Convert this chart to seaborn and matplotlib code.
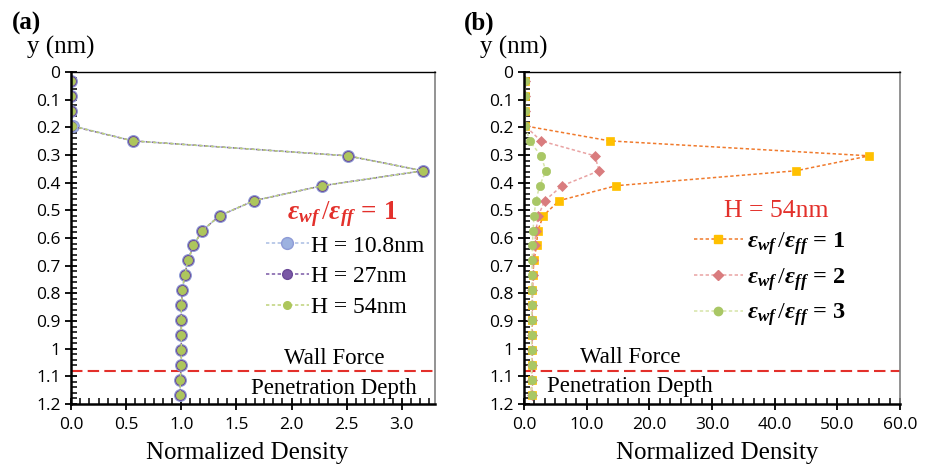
import matplotlib
matplotlib.use("Agg")
import matplotlib.pyplot as plt
import seaborn as sns
from matplotlib.ticker import MultipleLocator, AutoMinorLocator, FuncFormatter
from matplotlib.lines import Line2D

# distance from the wall (nm), shared by every profile
y_nm = [0.032, 0.087, 0.141, 0.195, 0.249, 0.303, 0.357, 0.411, 0.465, 0.519, 0.573,
        0.627, 0.681, 0.735, 0.789, 0.843, 0.897, 0.951, 1.005, 1.059, 1.113, 1.167]

# (a) eps_wf/eps_ff = 1, three channel widths
h_108 = [0.0, 0.0, 0.0, 0.02, 0.56, 2.51, 3.19, 2.28, 1.66, 1.35, 1.19,
         1.11, 1.06, 1.03, 1.01, 1.0, 1.0, 1.0, 1.0, 1.0, 0.99, 0.99]
h_27 = [0.0, 0.0, 0.0, 0.0, 0.56, 2.51, 3.19, 2.28, 1.66, 1.35, 1.19,
        1.11, 1.06, 1.03, 1.01, 1.0, 1.0, 1.0, 1.0, 1.0, 0.99, 0.99]
h_54 = [0.0, 0.0, 0.0, 0.01, 0.56, 2.51, 3.19, 2.28, 1.66, 1.35, 1.19,
        1.11, 1.06, 1.03, 1.01, 1.0, 1.0, 1.0, 1.0, 1.0, 0.99, 0.99]
labels_a = ["H = 10.8nm", "H = 27nm", "H = 54nm"]

# (b) H = 54nm, three wall-fluid strengths
eps_1 = [0.2, 0.2, 0.2, 0.2, 13.7, 55.1, 43.4, 14.7, 5.6, 3.1, 2.2,
         2.0, 1.6, 1.4, 1.35, 1.3, 1.3, 1.25, 1.25, 1.25, 1.2, 1.2]
eps_2 = [0.2, 0.2, 0.2, 0.2, 2.7, 11.3, 12.0, 6.1, 3.3, 2.3, 1.9,
         1.7, 1.5, 1.4, 1.35, 1.3, 1.3, 1.25, 1.25, 1.25, 1.2, 1.2]
eps_3 = [0.2, 0.2, 0.2, 0.2, 0.9, 2.7, 3.5, 2.5, 1.9, 1.6, 1.45,
         1.35, 1.3, 1.25, 1.25, 1.25, 1.2, 1.2, 1.2, 1.2, 1.2, 1.2]
ratios_b = ["1", "2", "3"]

wall_depth = 1.08

sns.set_style("ticks")
plt.rcParams["font.family"] = ["Open Sans", "DejaVu Sans"]
plt.rcParams["text.color"] = "black"
plt.rcParams["mathtext.fontset"] = "custom"
plt.rcParams["mathtext.rm"] = "Liberation Serif"
plt.rcParams["mathtext.it"] = "Liberation Serif:italic"
plt.rcParams["mathtext.bf"] = "Liberation Serif:bold"
plt.rcParams["mathtext.bfit"] = "Liberation Serif:bold:italic"

SERIF = "Liberation Serif"
RED = "#E3302B"
DASH = (0, (2.2, 1.6))


def eps_label(r):
    return (r"$\mathbfit{\varepsilon_{wf}}\,/\mathbfit{\varepsilon_{ff}}\,\mathbf{=\,"
            + r + "}$")


def style_axes(ax, xmax, xstep, xfmt):
    ax.set_ylim(1.2, 0)
    ax.set_xlim(0, xmax)
    ax.yaxis.set_major_locator(MultipleLocator(0.1))
    ax.yaxis.set_minor_locator(AutoMinorLocator(5))
    ax.yaxis.set_major_formatter(FuncFormatter(lambda v, p: f"{v:g}"))
    ax.xaxis.set_major_locator(MultipleLocator(xstep))
    ax.xaxis.set_minor_locator(AutoMinorLocator(6))
    ax.xaxis.set_major_formatter(FuncFormatter(lambda v, p: xfmt.format(v)))
    ax.tick_params(which="major", direction="inout", length=9, width=1.3,
                   labelsize=12.5, color="black", labelcolor="black")
    ax.tick_params(which="minor", direction="in", length=4, width=1.1, color="black")
    ax.tick_params(axis="y", pad=3)
    ax.tick_params(axis="x", pad=5)
    for s in ["left", "bottom"]:
        ax.spines[s].set_linewidth(1.8)
        ax.spines[s].set_color("black")
    ax.spines["top"].set_visible(True)
    ax.spines["top"].set_linewidth(1.0)
    ax.spines["top"].set_color("black")
    ax.spines["right"].set_visible(True)
    ax.spines["right"].set_linewidth(1.2)
    ax.spines["right"].set_color("#808080")
    ax.set_xlabel("")
    ax.set_ylabel("")
    ax.axhline(wall_depth, color=RED, lw=1.5, ls=(0, (5.5, 2.5)), zorder=1)


fig = plt.figure(figsize=(9.33, 4.67), dpi=100)
ax_a = fig.add_axes([71 / 933, 63 / 467, 364 / 933, 332 / 467])
ax_b = fig.add_axes([524 / 933, 63 / 467, 376 / 933, 332 / 467])

# ---- panel (a)
series_a = [
    (h_108, "#A9BDE3", "#9DB2E0", "#8E9BD6", 8.5),
    (h_27, "#7A58A6", "#7A58A6", "#6B4A98", 7.0),
    (h_54, "#BFD27A", "#ADC65C", "#ADC65C", 5.5),
]
handles_a = []
for vals, lc, mfc, mec, ms in series_a:
    sns.lineplot(x=vals, y=y_nm, sort=False, estimator=None, ax=ax_a, color=lc,
                 linestyle=DASH, lw=1.1, marker="o", markersize=ms,
                 markerfacecolor=mfc, markeredgecolor=mec, markeredgewidth=0.8,
                 legend=False)
    handles_a.append(Line2D([], [], color=lc, ls=DASH, lw=1.1, marker="o",
                            markersize=ms, markerfacecolor=mfc, markeredgecolor=mec))
style_axes(ax_a, 3.3, 0.5, "{:.1f}")

fig.legend(handles_a, labels_a, loc="upper left", bbox_to_anchor=(266 / 933, 1 - 235 / 467),
           frameon=False, prop={"family": SERIF, "size": 17}, handlelength=1.8,
           handletextpad=0.1, labelspacing=0.4, borderpad=0, borderaxespad=0)
fig.text(342 / 933, 1 - 214 / 467, eps_label("1"), color=RED, fontsize=19.5,
         ha="center", va="center")
ax_a.text(2.39, 1.034, "Wall Force", family=SERIF, fontsize=16.5, ha="center", va="center")
ax_a.text(2.38, 1.143, "Penetration Depth", family=SERIF, fontsize=16.5, ha="center", va="center")

# ---- panel (b)
series_b = [
    (eps_1, "#F07A2C", "#FFC000", "s", 6.0),
    (eps_2, "#E9A3A3", "#D97C7E", "D", 5.0),
    (eps_3, "#D6E4A8", "#A9C765", "o", 6.0),
]
handles_b = []
for vals, lc, mc, mk, ms in series_b:
    sns.lineplot(x=vals, y=y_nm, sort=False, estimator=None, ax=ax_b, color=lc,
                 linestyle=DASH, lw=1.1, marker=mk, markersize=ms,
                 markerfacecolor=mc, markeredgecolor=mc, markeredgewidth=0.5,
                 legend=False)
    handles_b.append(Line2D([], [], color=lc, ls=DASH, lw=1.1, marker=mk, markersize=ms,
                            markerfacecolor=mc, markeredgecolor=mc))
style_axes(ax_b, 60, 10, "{:.1f}")

fig.legend(handles_b, [eps_label(r) for r in ratios_b], loc="upper left",
           bbox_to_anchor=(694 / 933, 1 - 230 / 467), frameon=False,
           prop={"family": SERIF, "size": 17.5}, handlelength=2.0, handletextpad=0.2,
           labelspacing=0.37, borderpad=0, borderaxespad=0)
fig.text(776 / 933, 1 - 211 / 467, "H = 54nm", color=RED, family=SERIF, fontsize=18.5,
         ha="center", va="center")
ax_b.text(16.9, 1.032, "Wall Force", family=SERIF, fontsize=16.5, ha="center", va="center")
ax_b.text(16.9, 1.137, "Penetration Depth", family=SERIF, fontsize=16.5, ha="center", va="center")

# ---- outer labels
for x0, tag in [(12, "(a)"), (464, "(b)")]:
    fig.text(x0 / 933, 1 - 23 / 467, tag, family=SERIF, fontsize=18, fontweight="bold",
             ha="left", va="center")
for x0 in [27, 480]:
    fig.text(x0 / 933, 1 - 47 / 467, "y (nm)", family=SERIF, fontsize=18, ha="left", va="center")
for xc in [247, 717]:
    fig.text(xc / 933, 1 - 453 / 467, "Normalized Density", family=SERIF, fontsize=18,
             ha="center", va="center")

fig.savefig("out.png", dpi=100)
